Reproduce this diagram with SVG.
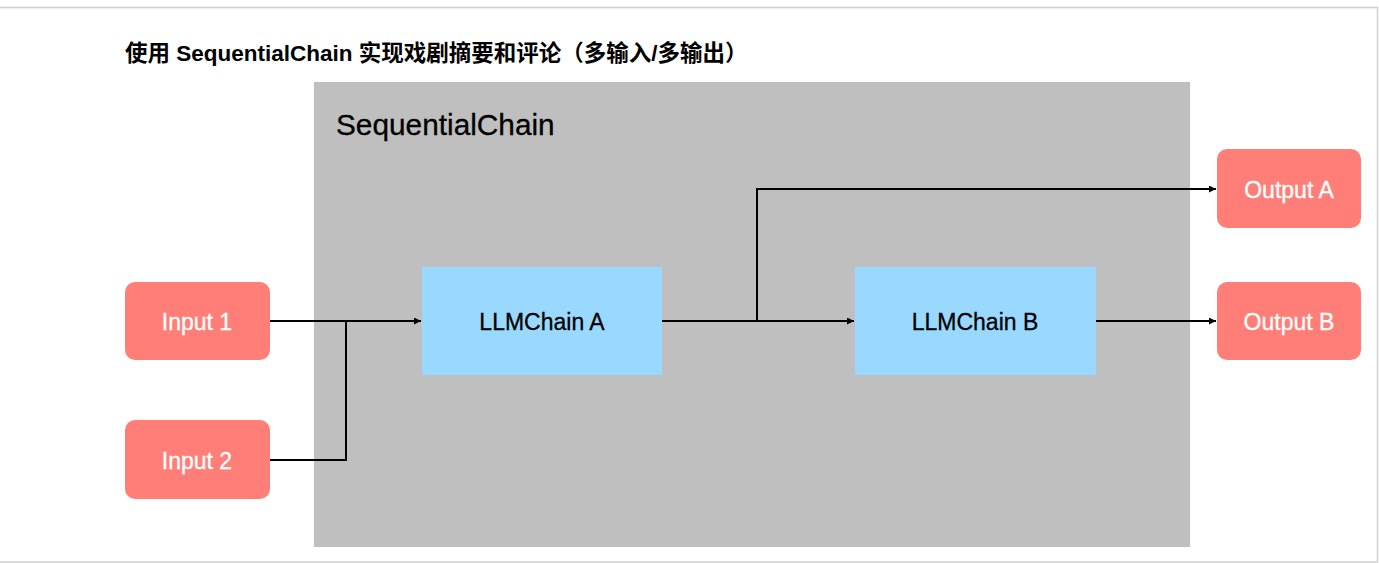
<svg xmlns="http://www.w3.org/2000/svg" width="1379" height="563" viewBox="0 0 1379 563">
<defs>
<marker id="arr" viewBox="0 0 10 10" refX="10" refY="5" markerWidth="8" markerHeight="7" orient="auto" markerUnits="userSpaceOnUse">
<path d="M0,0 L10,5 L0,10 z" fill="#000"/>
</marker>
<style>
.io{fill:#FF7F78}
.llm{fill:#99D8FF}
.iot{font-family:"Liberation Sans",Arial,sans-serif;font-size:23px;fill:#fff;text-anchor:middle;stroke:#fff;stroke-width:0.3}
.llt{font-family:"Liberation Sans",Arial,sans-serif;font-size:23px;fill:#000;text-anchor:middle;stroke:#000;stroke-width:0.3}
.conn{fill:none;stroke:#000;stroke-width:2}
</style>
</defs>
<rect x="0" y="0" width="1379" height="563" fill="#fff"/>
<path d="M0,7.5 H1377.5 V562 H0" fill="none" stroke="#d0d0d0" stroke-width="1.5"/>
<text x="125" y="61" font-family="Liberation Sans,Arial,'Noto Sans CJK SC',sans-serif" font-size="22.5" font-weight="bold" fill="#000">使用 SequentialChain 实现戏剧摘要和评论（多输入/多输出）</text>
<g id="sequentialchain">
<rect x="314" y="82" width="876" height="465" fill="#BFBFBF"/>
<text x="336" y="135" font-family="Liberation Sans,Arial,sans-serif" font-size="29.8" fill="#000" stroke="#000" stroke-width="0.3">SequentialChain</text>
</g>
<g id="input1"><rect class="io" x="125" y="282" width="145" height="78" rx="10"/><text class="iot" x="197" y="330">Input 1</text></g>
<g id="input2"><rect class="io" x="125" y="420" width="145" height="79" rx="10"/><text class="iot" x="197" y="469">Input 2</text></g>
<g id="llmchainA"><rect class="llm" x="422" y="267" width="240" height="108"/><text class="llt" x="542" y="330">LLMChain A</text></g>
<g id="llmchainB"><rect class="llm" x="855" y="267" width="241" height="108"/><text class="llt" x="975" y="330">LLMChain B</text></g>
<g id="outputA"><rect class="io" x="1217" y="149" width="144" height="79" rx="10"/><text class="iot" x="1289" y="198">Output A</text></g>
<g id="outputB"><rect class="io" x="1217" y="282" width="144" height="78" rx="10"/><text class="iot" x="1289" y="330">Output B</text></g>
<g id="connectors">
<path class="conn" d="M270,321 H421" marker-end="url(#arr)"/>
<path class="conn" d="M270,460 H346 V321"/>
<path class="conn" d="M662,321 H854" marker-end="url(#arr)"/>
<path class="conn" d="M757,321 V189 H1216" marker-end="url(#arr)"/>
<path class="conn" d="M1096,321 H1216" marker-end="url(#arr)"/>
</g>
</svg>
